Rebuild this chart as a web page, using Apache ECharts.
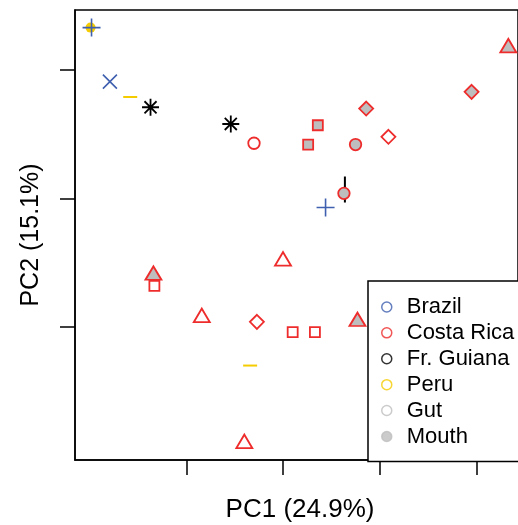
<!DOCTYPE html>
<html>
<head>
<meta charset="utf-8">
<script src="https://cdn.jsdelivr.net/npm/echarts@6/dist/echarts.min.js"></script>
<style>
html, body { margin: 0; padding: 0; background: #fff; }
#chart { width: 518px; height: 525px; }
</style>
</head>
<body>
<div id="chart"></div>
<script>
// PCA 坐标 [PC1, PC2]，按国家/部位/形状分组
const peruFilled = [[-0.199, 0.133]];
const peruDash = [[-0.158, 0.079], [-0.034, -0.130]];
const brazilPlus = [[-0.198, 0.133], [0.044, -0.007]];
const brazilCross = [[-0.179, 0.091]];
const guianaStar = [[-0.137, 0.071], [-0.054, 0.058]];
const guianaBar = [[0.064, 0.007]];
const crCircleGut = [[-0.030, 0.043]];
const crCircleMouth = [[0.075, 0.042], [0.063, 0.004]];
const crSquareGut = [[-0.133, -0.068], [0.010, -0.104], [0.033, -0.104]];
const crSquareMouth = [[0.036, 0.057], [0.026, 0.042]];
const crDiamondGut = [[0.109, 0.048], [-0.027, -0.096]];
const crDiamondMouth = [[0.086, 0.070], [0.195, 0.083]];
const crTriangleGut = [[0.000, -0.047], [-0.084, -0.091], [-0.040, -0.189]];
const crTriangleMouth = [[0.233, 0.119], [-0.134, -0.058], [0.077, -0.094]];

const legendNames = ['Brazil', 'Costa Rica', 'Fr. Guiana', 'Peru', 'Gut', 'Mouth'];
const xTicks = [-0.1, 0, 0.1, 0.2];
const yTicks = [-0.1, 0, 0.1];

const BLUE = '#3F5FAF';
const RED = '#EE2C2C';
const BLACK = '#000000';
const YELLOW = '#F5CC00';
const GREY = '#BEBEBE';
const FONT = '"Liberation Sans", Arial, sans-serif';

const plusPath = 'path://M5 0L5 10M0 5L10 5';
const crossPath = 'path://M0 0L10 10M10 0L0 10';
const starPath = 'path://M5 0L5 10M0 5L10 5M1.46 1.46L8.54 8.54M8.54 1.46L1.46 8.54';

// 画散点的小工具
function pts (data, symbol, size, fill, stroke, bw) {
  return {
    type: 'scatter',
    data: data,
    symbol: symbol,
    symbolSize: size,
    itemStyle: { color: fill, borderColor: stroke, borderWidth: bw, opacity: 1 },
    emphasis: { disabled: true },
    silent: true
  }
}

const legendColors = {
  'Brazil': [BLUE, '#fff'],
  'Costa Rica': [RED, '#fff'],
  'Fr. Guiana': [BLACK, '#fff'],
  'Peru': [YELLOW, '#fff'],
  'Gut': [GREY, '#fff'],
  'Mouth': [GREY, GREY]
}

const chart = echarts.init(document.getElementById('chart'))
const option = {
  animation: false,
  textStyle: { fontFamily: FONT, color: '#000' },
  // 右边框在画面外，所以网格一直铺到右边缘
  grid: {
    left: 75, top: 10, right: 0, height: 450,
    outerBoundsMode: 'none',
    show: true, borderColor: '#000', borderWidth: 1.5, backgroundColor: 'transparent'
  },
  xAxis: {
    type: 'value',
    min: -0.2151, max: 0.2430,
    name: 'PC1 (24.9%)',
    nameLocation: 'middle',
    nameGap: 37,
    nameTextStyle: { fontSize: 26, color: '#000', fontFamily: FONT, padding: [0, 0, 0, 7] },
    axisLine: { show: true, onZero: false, lineStyle: { color: '#000', width: 1.5 } },
    axisTick: { show: true, customValues: xTicks, length: 15, lineStyle: { color: '#000', width: 1.5 } },
    axisLabel: { show: false },
    splitLine: { show: false }
  },
  yAxis: {
    type: 'value',
    min: -0.2035, max: 0.1467,
    name: 'PC2 (15.1%)',
    nameLocation: 'middle',
    nameGap: 31,
    nameTextStyle: { fontSize: 25, color: '#000', fontFamily: FONT },
    axisLine: { show: true, onZero: false, lineStyle: { color: '#000', width: 1.5 } },
    axisTick: { show: true, customValues: yTicks, length: 15, lineStyle: { color: '#000', width: 1.5 } },
    axisLabel: { show: false },
    splitLine: { show: false }
  },
  legend: {
    orient: 'vertical',
    left: 368, top: 281,
    padding: [13, 60, 12, 13],
    itemWidth: 10, itemHeight: 10,
    itemGap: 0,
    selectedMode: false,
    backgroundColor: '#fff',
    borderColor: '#000',
    borderWidth: 1.5,
    borderRadius: 0,
    textStyle: { fontSize: 22, lineHeight: 25.9, color: '#000', fontFamily: FONT, padding: [0, 0, 0, 10] },
    data: legendNames.map(n => ({
      name: n,
      icon: 'circle',
      itemStyle: { color: legendColors[n][1], borderColor: legendColors[n][0], borderWidth: 1.5 }
    }))
  },
  series: [
    pts(peruFilled, 'circle', 10, YELLOW, YELLOW, 0),
    pts(brazilPlus, plusPath, 18, 'transparent', BLUE, 1.6),
    pts(brazilCross, crossPath, 14, 'transparent', BLUE, 1.6),
    pts(peruDash, 'rect', [14, 2], YELLOW, YELLOW, 0),
    pts(guianaStar, starPath, 17, 'transparent', BLACK, 1.8),
    pts(guianaBar, 'rect', [2, 26], BLACK, BLACK, 0),
    pts(crCircleGut, 'circle', 11.5, '#fff', RED, 1.8),
    pts(crCircleMouth, 'circle', 11.5, GREY, RED, 1.8),
    pts(crSquareGut, 'rect', 10, '#fff', RED, 1.8),
    pts(crSquareMouth, 'rect', 10, GREY, RED, 1.8),
    pts(crDiamondGut, 'diamond', 14, '#fff', RED, 1.8),
    pts(crDiamondMouth, 'diamond', 14, GREY, RED, 1.8),
    pts(crTriangleGut, 'triangle', [16, 13.5], '#fff', RED, 1.8),
    pts(crTriangleMouth, 'triangle', [16, 13.5], GREY, RED, 1.8)
  ].concat(legendNames.map(n => ({ type: 'scatter', name: n, data: [] })))
}
chart.setOption(option)
</script>
</body>
</html>
